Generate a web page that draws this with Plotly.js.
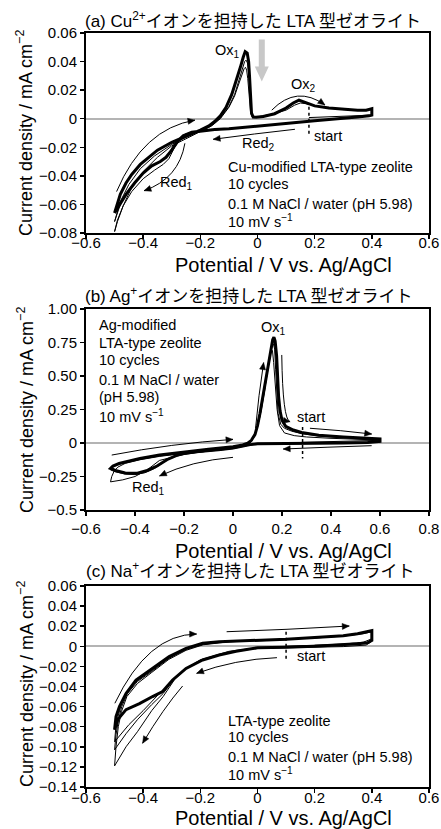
<!DOCTYPE html>
<html><head><meta charset="utf-8">
<script src="https://cdn.plot.ly/plotly-3.0.1.min.js"></script>
<style>html,body{margin:0;padding:0;background:#fff}#chart{width:441px;height:829px}</style>
</head><body><div id="chart"></div>
<script>
// ---------- Panel (a): Cu-modified LTA ----------
const aThickX = [-0.5,-0.49,-0.48,-0.46,-0.44,-0.41,-0.38,-0.35,-0.3,-0.25,-0.2,-0.17,-0.15,-0.13,-0.11,-0.09,-0.075,-0.06,-0.05,-0.043,-0.036,-0.031,-0.028,-0.025,-0.021,-0.015,-0.005,0.02,0.06,0.1,0.125,0.145,0.165,0.2,0.25,0.3,0.35,0.38,0.4,
  0.4,0.39,0.35,0.3,0.25,0.2,0.15,0.1,0.05,0,-0.05,-0.1,-0.15,-0.2,-0.23,-0.26,-0.28,-0.3,-0.32,-0.34,-0.37,-0.4,-0.43,-0.46,-0.48,-0.5];
const aThickY = [-0.066,-0.06,-0.053,-0.045,-0.039,-0.032,-0.027,-0.022,-0.0165,-0.0125,-0.008,-0.005,-0.002,0.002,0.008,0.017,0.026,0.036,0.043,0.047,0.046,0.040,0.030,0.015,0.004,0.0012,0.001,0.0015,0.0035,0.0075,0.011,0.013,0.0115,0.009,0.0075,0.0065,0.006,0.006,0.007,
  0.0025,0.002,0.0012,0.0005,-0.0005,-0.0015,-0.0025,-0.0035,-0.0045,-0.0055,-0.0062,-0.007,-0.0075,-0.0085,-0.0095,-0.012,-0.016,-0.022,-0.027,-0.030,-0.033,-0.038,-0.045,-0.053,-0.06,-0.066];
const aCyc1X = [0.18,0.25,0.32,0.38,0.4,0.39,0.35,0.3,0.2,0.1,0,-0.1,-0.2,-0.25,-0.27,-0.29,-0.31,-0.33,-0.36,-0.4,-0.44,-0.47,-0.49,-0.5,-0.49,-0.47,-0.44,-0.4,-0.35,-0.3,-0.25,-0.2,-0.16,-0.13,-0.1,-0.08,-0.065,-0.053,-0.047,-0.042,-0.038,-0.034,-0.031,-0.028,-0.024,-0.02,0,0.05,0.1,0.13,0.15,0.17,0.18];
const aCyc1Y = [0.0008,0.0012,0.0016,0.002,0.0025,0.0018,0.0012,0.0005,-0.0015,-0.0035,-0.0055,-0.007,-0.0088,-0.011,-0.014,-0.02,-0.028,-0.032,-0.036,-0.042,-0.051,-0.061,-0.071,-0.079,-0.072,-0.061,-0.048,-0.037,-0.027,-0.019,-0.014,-0.009,-0.005,0.0,0.008,0.016,0.024,0.031,0.035,0.036,0.034,0.028,0.02,0.012,0.004,0.0015,0.0012,0.003,0.006,0.0095,0.011,0.0105,0.0098];
const aCyc3X = [-0.5,-0.48,-0.45,-0.41,-0.36,-0.3,-0.25,-0.2,-0.16,-0.13,-0.1,-0.08,-0.065,-0.052,-0.045,-0.04,-0.035,-0.031,-0.028,-0.024,-0.02,0,0.05,0.1,0.125,0.145,0.17,0.2,0.25,0.3,0.35,0.4,0.4,0.35,0.3,0.2,0.1,0,-0.1,-0.2,-0.25,-0.28,-0.3,-0.32,-0.35,-0.38,-0.42,-0.45,-0.48,-0.5];
const aCyc3Y = [-0.072,-0.058,-0.046,-0.035,-0.026,-0.018,-0.013,-0.0085,-0.0045,0.0005,0.0085,0.017,0.027,0.036,0.040,0.041,0.039,0.032,0.022,0.009,0.002,0.0012,0.0032,0.007,0.0105,0.0125,0.011,0.009,0.0074,0.0064,0.006,0.0065,0.0022,0.0011,0.0004,-0.0015,-0.0035,-0.0055,-0.007,-0.0086,-0.0105,-0.0145,-0.021,-0.027,-0.031,-0.035,-0.042,-0.05,-0.06,-0.072];

// ---------- Panel (b): Ag-modified LTA ----------
const bThickX = [0.28,0.35,0.45,0.55,0.6,0.6,0.55,0.45,0.35,0.25,0.15,0.1,0.07,0.04,0.0,-0.05,-0.1,-0.15,-0.2,-0.23,-0.27,-0.31,-0.35,-0.39,-0.44,-0.48,-0.5,-0.49,-0.465,-0.43,-0.38,-0.3,-0.2,-0.1,0.0,0.04,0.06,0.075,0.09,0.1,0.11,0.125,0.14,0.153,0.162,0.167,0.172,0.178,0.182,0.186,0.192,0.2,0.215,0.246,0.28];
const bThickY = [0.078,0.058,0.045,0.035,0.03,0.012,0.004,0.0,-0.002,-0.003,-0.004,-0.006,-0.012,-0.022,-0.038,-0.048,-0.056,-0.066,-0.078,-0.092,-0.125,-0.172,-0.205,-0.225,-0.223,-0.205,-0.19,-0.172,-0.153,-0.138,-0.116,-0.09,-0.066,-0.047,-0.028,-0.015,-0.002,0.02,0.065,0.13,0.22,0.38,0.55,0.7,0.77,0.79,0.76,0.65,0.5,0.35,0.24,0.17,0.125,0.097,0.078];
const bCyc2X = [0.28,0.35,0.45,0.55,0.6,0.6,0.55,0.45,0.35,0.25,0.15,0.1,0.07,0.04,0.0,-0.05,-0.1,-0.15,-0.2,-0.24,-0.28,-0.32,-0.36,-0.4,-0.44,-0.48,-0.5,-0.49,-0.47,-0.44,-0.38,-0.3,-0.2,-0.1,0.0,0.04,0.06,0.075,0.09,0.1,0.11,0.125,0.14,0.152,0.16,0.165,0.17,0.174,0.178,0.184,0.195,0.21,0.24,0.28];
const bCyc2Y = [0.07,0.052,0.04,0.032,0.028,0.01,0.003,-0.001,-0.003,-0.004,-0.005,-0.008,-0.015,-0.026,-0.042,-0.052,-0.06,-0.07,-0.082,-0.1,-0.14,-0.19,-0.222,-0.236,-0.232,-0.215,-0.2,-0.18,-0.16,-0.145,-0.12,-0.095,-0.07,-0.05,-0.03,-0.017,-0.004,0.018,0.06,0.12,0.2,0.36,0.53,0.68,0.735,0.74,0.7,0.55,0.38,0.22,0.14,0.11,0.088,0.07];
const bCyc1X = [0.28,0.4,0.5,0.6,0.6,0.5,0.4,0.3,0.2,0.1,0.06,0.02,-0.05,-0.1,-0.2,-0.3,-0.35,-0.4,-0.45,-0.5,-0.495,-0.485,-0.47,-0.44,-0.38,-0.3,-0.2,-0.1,0.0,0.05,0.07,0.085,0.1,0.115,0.13,0.142,0.15,0.156,0.161,0.166,0.172,0.18,0.19,0.21,0.25,0.3,0.4,0.5,0.6];
const bCyc1Y = [0.005,0.01,0.015,0.02,0.008,0.0,-0.003,-0.004,-0.005,-0.008,-0.016,-0.03,-0.05,-0.06,-0.085,-0.13,-0.2,-0.25,-0.275,-0.29,-0.25,-0.21,-0.18,-0.152,-0.125,-0.1,-0.075,-0.055,-0.035,-0.015,0.0,0.04,0.12,0.24,0.4,0.56,0.66,0.7,0.69,0.6,0.42,0.25,0.13,0.075,0.055,0.045,0.035,0.028,0.022];

// ---------- Panel (c): Na-type LTA ----------
const cThickX = [0.1,0.2,0.3,0.35,0.39,0.4,0.4,0.385,0.35,0.3,0.2,0.1,0,-0.075,-0.134,-0.192,-0.25,-0.297,-0.332,-0.367,-0.413,-0.46,-0.489,-0.5,-0.495,-0.483,-0.46,-0.425,-0.367,-0.309,-0.25,-0.192,-0.134,-0.004,0.1];
const cThickY = [0.007,0.0085,0.0105,0.0125,0.015,0.0155,0.006,0.0035,0.0025,0.0015,0.0,-0.001,-0.0015,-0.005,-0.0087,-0.0136,-0.022,-0.0335,-0.045,-0.05,-0.057,-0.063,-0.073,-0.083,-0.07,-0.06,-0.047,-0.0335,-0.0219,-0.0103,-0.002,0.003,0.0046,0.0063,0.007];
const cCyc1X = [0.1,0.2,0.3,0.37,0.4,0.4,0.38,0.3,0.2,0.1,0,-0.1,-0.2,-0.25,-0.29,-0.33,-0.37,-0.42,-0.46,-0.5,-0.495,-0.487,-0.476,-0.457,-0.42,-0.37,-0.31,-0.25,-0.19,-0.1,0,0.1];
const cCyc1Y = [0.0,0.001,0.0022,0.004,0.0075,0.005,0.0012,-0.0003,-0.0008,-0.0012,-0.002,-0.006,-0.014,-0.022,-0.033,-0.05,-0.064,-0.085,-0.1,-0.119,-0.1,-0.08,-0.065,-0.05,-0.037,-0.026,-0.013,-0.004,0.0015,0.0045,0.0055,0.0065];
const cCyc2X = [-0.25,-0.29,-0.33,-0.37,-0.42,-0.46,-0.5,-0.495,-0.487,-0.475,-0.455,-0.42,-0.37,-0.31,-0.25,-0.19,-0.1,0,0.1,0.2,0.3,0.37,0.4,0.4,0.38,0.3,0.2,0.1,0,-0.1,-0.2,-0.25];
const cCyc2Y = [-0.022,-0.032,-0.047,-0.058,-0.073,-0.087,-0.103,-0.088,-0.074,-0.06,-0.047,-0.035,-0.025,-0.012,-0.003,0.002,0.005,0.006,0.0068,0.0082,0.0102,0.0125,0.0145,0.006,0.003,0.0015,0.0,-0.001,-0.0015,-0.005,-0.0135,-0.022];
const cCyc3X = [-0.25,-0.3,-0.34,-0.4,-0.45,-0.5,-0.496,-0.488,-0.477,-0.458,-0.42,-0.37,-0.31,-0.25];
const cCyc3Y = [-0.022,-0.035,-0.046,-0.064,-0.078,-0.095,-0.082,-0.07,-0.058,-0.046,-0.034,-0.024,-0.011,-0.002];

// ---------- ticks ----------
const xTicksAC = [-0.6,-0.4,-0.2,0,0.2,0.4,0.6];
const xTextAC = ['\u22120.6','\u22120.4','\u22120.2','0','0.2','0.4','0.6'];
const xTicksB = [-0.6,-0.4,-0.2,0,0.2,0.4,0.6,0.8];
const xTextB = ['\u22120.6','\u22120.4','\u22120.2','0','0.2','0.4','0.6','0.8'];
const yTicksA = [0.06,0.04,0.02,0,-0.02,-0.04,-0.06,-0.08];
const yTextA = ['0.06','0.04','0.02','0','\u22120.02','\u22120.04','\u22120.06','\u22120.08'];
const yTicksB = [1.0,0.75,0.5,0.25,0,-0.25,-0.5];
const yTextB = ['1.00','0.75','0.50','0.25','0','\u22120.25','\u22120.5'];
const yTicksC = [0.06,0.04,0.02,0,-0.02,-0.04,-0.06,-0.08,-0.10,-0.12,-0.14];
const yTextC = ['0.06','0.04','0.02','0','\u22120.02','\u22120.04','\u22120.06','\u22120.08','\u22120.10','\u22120.12','\u22120.14'];

const FONT = '"Liberation Sans", Arial, "Noto Sans CJK JP", sans-serif';
const THIN = 1, THICK = 3;

function tr(x, y, ax, w) {
  return {type:'scatter', mode:'lines', x:x, y:y, xaxis:'x'+ax, yaxis:'y'+ax,
    line:{color:'#000', width:w}, hoverinfo:'skip', showlegend:false};
}
const data = [
  tr(aCyc1X,aCyc1Y,'',THIN), tr(aCyc3X,aCyc3Y,'',THIN), tr(aThickX,aThickY,'',THICK),
  tr(bCyc1X,bCyc1Y,'2',THIN), tr(bCyc2X,bCyc2Y,'2',THIN), tr(bThickX,bThickY,'2',THICK),
  tr(cCyc1X,cCyc1Y,'3',THIN), tr(cCyc2X,cCyc2Y,'3',THIN), tr(cCyc3X,cCyc3Y,'3',THIN), tr(cThickX,cThickY,'3',THICK)
];

function xa(dom, rng, tv, tt, anchor, standoff) {
  return {domain:dom, range:rng, anchor:anchor, tickvals:tv, ticktext:tt, ticks:'outside', ticklen:4, tickwidth:1.5,
    tickcolor:'#000', showline:true, linecolor:'#000', linewidth:2, mirror:true, showgrid:false, zeroline:false,
    ticklabelstandoff: standoff||0,
    tickfont:{family:FONT, size:15, color:'#000'}, fixedrange:true};
}
function ya(dom, rng, tv, tt, anchor) {
  const o = xa(dom, rng, tv, tt, anchor, 0);
  o.zeroline = true; o.zerolinecolor = '#b4b4b4'; o.zerolinewidth = 2;
  return o;
}
const XD = [86/441, 429/441];
const panelPx = { '': {xr:[-0.6,0.6], yr:[-0.08,0.06], h:200}, '2': {xr:[-0.6,0.8], yr:[-0.5,1.0], h:201}, '3': {xr:[-0.6,0.6], yr:[-0.14,0.06], h:201} };
const layout = {
  width:441, height:829, margin:{l:0,r:0,t:0,b:0}, paper_bgcolor:'#fff', plot_bgcolor:'#fff',
  font:{family:FONT, color:'#000'}, showlegend:false,
  xaxis: xa(XD, panelPx[''].xr, xTicksAC, xTextAC, 'y', -9),
  yaxis: ya([1-233/829, 1-33/829], panelPx[''].yr, yTicksA, yTextA, 'x'),
  xaxis2: xa(XD, panelPx['2'].xr, xTicksB, xTextB, 'y2', 0),
  yaxis2: ya([1-510/829, 1-309/829], panelPx['2'].yr, yTicksB, yTextB, 'x2'),
  xaxis3: xa(XD, panelPx['3'].xr, xTicksAC, xTextAC, 'y3', -8),
  yaxis3: ya([1-787/829, 1-586/829], panelPx['3'].yr, yTicksC, yTextC, 'x3'),
  shapes: [], annotations: []
};
// pixel <-> data scale helpers for drawing arrowheads as shapes
function scales(k) { const p = panelPx[k]; return {sx: 343/(p.xr[1]-p.xr[0]), sy: p.h/(p.yr[1]-p.yr[0])}; }
function polyPath(k, x1, y1, dxp, dyp, pts) {
  // pts: [along, across] in px, relative to tip along direction (dxp,dyp) (screen, y up)
  const s = scales(k);
  const L = Math.hypot(dxp, dyp), ux = dxp/L, uy = dyp/L, nx = -uy, ny = ux;
  return pts.map((p,i) => {
    const X = x1 + (p[0]*ux + p[1]*nx)/s.sx, Y = y1 + (p[0]*uy + p[1]*ny)/s.sy;
    return (i ? 'L ' : 'M ') + X + ',' + Y;
  }).join(' ') + ' Z';
}

// curved arrows: [x0,y0, cx,cy, x1,y1]
const arrows = {
  '': [[-0.493,-0.051,-0.40,-0.007,-0.219,-0.001],[-0.254,-0.0172,-0.275,-0.042,-0.397,-0.0504],[0.131,-0.0074,-0.01,-0.0105,-0.155,-0.0144],[0.05,0.006,0.137,0.0238,0.236,0.0096]],
  '2': [[-0.495,-0.09,-0.2525,-0.0045,0.0,0.027],[0.0,-0.107,-0.17,-0.1335,-0.3,-0.246],[0.092,0.11,0.104,0.35,0.125,0.6],[0.199,0.657,0.203,0.17,0.233,0.159],[0.314,0.11,0.44,0.095,0.566,0.067],[0.566,-0.02,0.39,-0.03,0.205,-0.045]],
  '3': [[-0.499,-0.0567,-0.384,0.012,-0.213,0.0122],[-0.262,-0.0395,-0.33,-0.062,-0.402,-0.0965],[-0.108,0.0145,0.1,0.0165,0.321,0.0202],[0.068,-0.0113,-0.08,-0.013,-0.213,-0.0269]]
};
Object.keys(arrows).forEach(k => {
  const s = scales(k);
  arrows[k].forEach(a => {
    const [x0,y0,cx,cy,x1,y1] = a;
    layout.shapes.push({type:'path', xref:'x'+k, yref:'y'+k, path:`M ${x0},${y0} Q ${cx},${cy} ${x1},${y1}`, line:{color:'#000', width:1}});
    const dxp = (x1-cx)*s.sx, dyp = (y1-cy)*s.sy;
    layout.shapes.push({type:'path', xref:'x'+k, yref:'y'+k, fillcolor:'#000', line:{color:'#000', width:0.5},
      path: polyPath(k, x1, y1, dxp, dyp, [[0,0],[-7,3],[-7,-3]])});
  });
});
// dotted start markers: [x, yTop, yBottom]
const startMarks = {'': [0.18,0.0084,-0.0126], '2':[0.284,0.12,-0.115], '3':[0.1,0.0145,-0.0136]};
Object.keys(startMarks).forEach(k => {
  const [x,y0,y1] = startMarks[k];
  layout.shapes.push({type:'line', xref:'x'+k, yref:'y'+k, x0:x, x1:x, y0:y0, y1:y1, line:{color:'#000', width:1.5, dash:'dot'}});
});
// gray block arrow in (a): tip position and pointing down
const grayTip = [0.015, 0.026];
layout.shapes.push({type:'path', xref:'x', yref:'y', fillcolor:'#c8c8c8', line:{color:'#c8c8c8', width:0},
  path: polyPath('', grayTip[0], grayTip[1], 0, -1, [[0,0],[-15,7],[-15,3],[-42,3],[-42,-3],[-15,-3],[-15,-7]])});

function lab(k, x, y, text, anchor, size) {
  layout.annotations.push({xref:'x'+k, yref:'y'+k, x:x, y:y, text:text, showarrow:false,
    xanchor:anchor||'left', yanchor:'middle', font:{family:FONT, size:size||14.5, color:'#000'}});
}
// panel (a) labels
lab('', -0.105, 0.0475, 'Ox<sub>1</sub>', 'center');
lab('', 0.16, 0.0236, 'Ox<sub>2</sub>', 'center');
lab('', 0.19, -0.0121, 'start');
lab('', 0.003, -0.0177, 'Red<sub>2</sub>', 'center');
lab('', -0.283, -0.045, 'Red<sub>1</sub>', 'center');
lab('', -0.11, -0.0336, 'Cu-modified LTA-type zeolite');
lab('', -0.11, -0.046, '10 cycles');
lab('', -0.11, -0.0595, '0.1 M NaCl / water (pH 5.98)');
lab('', -0.11, -0.0718, '10 mV s<sup>\u22121</sup>');
// panel (b)
lab('2', 0.167, 0.856, 'Ox<sub>1</sub>', 'center');
lab('2', 0.253, 0.196, 'start');
lab('2', -0.345, -0.338, 'Red<sub>1</sub>', 'center');
lab('2', -0.556, 0.88, 'Ag-modified');
lab('2', -0.556, 0.749, 'LTA-type zeolite');
lab('2', -0.556, 0.619, '10 cycles');
lab('2', -0.556, 0.47, '0.1 M NaCl / water');
lab('2', -0.556, 0.346, '(pH 5.98)');
lab('2', -0.556, 0.2, '10 mV s<sup>\u22121</sup>');
// panel (c)
lab('3', 0.131, -0.0097, 'start');
lab('3', -0.11, -0.074, 'LTA-type zeolite');
lab('3', -0.11, -0.0906, '10 cycles');
lab('3', -0.11, -0.1098, '0.1 M NaCl / water (pH 5.98)');
lab('3', -0.11, -0.1272, '10 mV s<sup>\u22121</sup>');

function paperText(px, py, text, size, angle) {
  layout.annotations.push({xref:'paper', yref:'paper', x:px/441, y:1-py/829, text:text, showarrow:false,
    xanchor:'center', yanchor:'middle', textangle:angle||0, font:{family:FONT, size:size, color:'#000'}});
}
const panelTitles = ['(a) Cu<sup>2+</sup>イオンを担持した LTA 型ゼオライト','(b) Ag<sup>+</sup>イオンを担持した LTA 型ゼオライト','(c) Na<sup>+</sup>イオンを担持した LTA 型ゼオライト'];
paperText(253, 20, panelTitles[0], 17);
paperText(249, 295, panelTitles[1], 17);
paperText(250, 570, panelTitles[2], 17);
const xTitle = 'Potential / V vs. Ag/AgCl';
const yTitle = 'Current density / mA cm<sup>\u22122</sup>';
paperText(283, 265, xTitle, 20);
paperText(283, 551, xTitle, 20);
paperText(283, 818, xTitle, 20);
paperText(25, 133, yTitle, 18, -90);
paperText(25, 410, yTitle, 18, -90);
paperText(25, 684, yTitle, 18, -90);

Plotly.newPlot('chart', data, layout, {staticPlot:true, displayModeBar:false});
</script></body></html>
